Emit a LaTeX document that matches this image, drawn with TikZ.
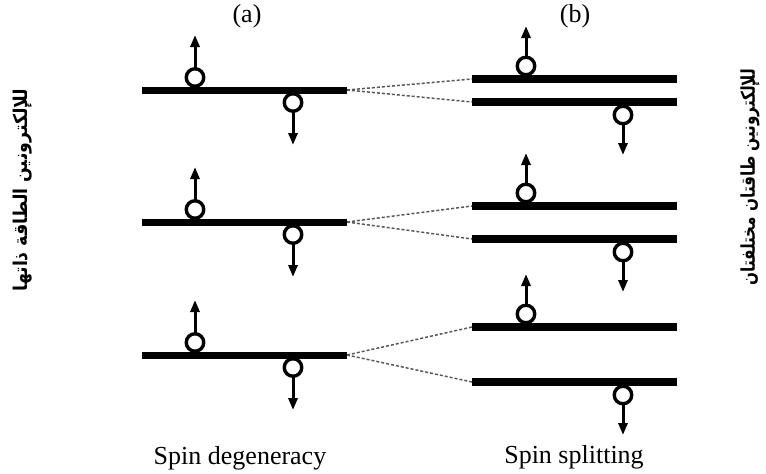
\documentclass[tikz,border=0pt]{standalone}
\usepackage{fontspec}
\setmainfont{Liberation Serif}
\newfontfamily\arabicfont[Script=Arabic]{DejaVu Sans}
\TeXXeTstate=1
\usetikzlibrary{arrows.meta}
\begin{document}
\begin{tikzpicture}[x=1pt,y=-1pt,
  levelbar/.style={fill=black,inner sep=0pt,outer sep=0pt,minimum width=205pt,minimum height=7pt},
  rbar/.style={levelbar,minimum height=8pt},
  electron/.style={circle,draw=black,line width=3.4pt,fill=white,inner sep=0pt,outer sep=0pt,minimum size=17.5pt},
  spin/.style={line width=3pt,-{Triangle[length=12pt,width=9pt]}},
  split/.style={dashed,dash pattern=on 3pt off 2pt,line width=1.5pt,draw=black!65},
  lbl/.style={font=\fontsize{26}{30}\selectfont,inner sep=0pt},
  arlbl/.style={font=\fontsize{19}{22}\selectfont\bfseries,inner sep=0pt,rotate=90}
]
\useasboundingbox (0,0) rectangle (766,474);

% left (degenerate) levels
\node[levelbar] (L1) at (244.5,90) {};
\node[levelbar] (L2) at (244.5,222) {};
\node[levelbar] (L3) at (244.5,355) {};
% right (split) levels
\node[rbar] (R1a) at (574.5,79) {};
\node[rbar] (R1b) at (574.5,102) {};
\node[rbar] (R2a) at (574.5,206) {};
\node[rbar] (R2b) at (574.5,239) {};
\node[rbar] (R3a) at (574.5,327) {};
\node[rbar] (R3b) at (574.5,382) {};

% splitting connectors
\draw[split] (L1.east) -- (R1a.west);
\draw[split] (L1.east) -- (R1b.west);
\draw[split] (L2.east) -- (R2a.west);
\draw[split] (L2.east) -- (R2b.west);
\draw[split] (L3.east) -- (R3a.west);
\draw[split] (L3.east) -- (R3b.west);

% electrons on left levels
\foreach \n/\y in {1/90,2/222,3/355}{
  \node[electron] (Lu\n) at (195,\y-12.5) {};
  \coordinate (Lut\n) at (195,\y-55);
  \draw[spin] (Lu\n.north) -- (Lut\n);
  \node[electron] (Ld\n) at (293,\y+12.5) {};
  \coordinate (Ldt\n) at (293,\y+55);
  \draw[spin] (Ld\n.south) -- (Ldt\n);
}
% electrons on right levels
\foreach \n/\ya/\yb in {1/79/102,2/206/239,3/327/382}{
  \node[electron] (Ru\n) at (526,\ya-13) {};
  \coordinate (Rut\n) at (526,\ya-53);
  \draw[spin] (Ru\n.north) -- (Rut\n);
  \node[electron] (Rd\n) at (623,\yb+13) {};
  \coordinate (Rdt\n) at (623,\yb+53);
  \draw[spin] (Rd\n.south) -- (Rdt\n);
}

% labels
\node[lbl] (ta) at (247,16) {(a)};
\node[lbl] (tb) at (575,16) {(b)};
\node[lbl,anchor=base] (ca) at (240,464) {Spin degeneracy};
\node[lbl,anchor=base] (cb) at (574,463) {Spin splitting};

\node[arlbl] (arL) at (23,190) {\scalebox{0.91}[1]{\arabicfont\beginR للإلكترونين الطاقة ذاتها\endR}};
\node[arlbl] (arR) at (750,177) {\scalebox{0.8}[1]{\arabicfont\beginR للإلكترونين طاقتان مختلفتان\endR}};
\end{tikzpicture}
\end{document}
